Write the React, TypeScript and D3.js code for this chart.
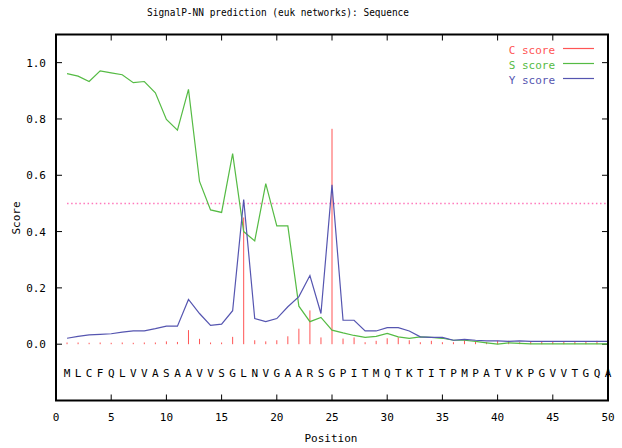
import { useEffect, useRef } from 'react'
import * as d3 from 'd3'

const sequence = 'MLCFQLVVASAAVVSGLNVGAARSGPITMQTKTITPMPATVKPGVVTGQA'.split('')

const cScore = [
  0.006, 0.006, 0.005, 0.006, 0.005, 0.006, 0.005, 0.006, 0.006, 0.01,
  0.008, 0.05, 0.019, 0.006, 0.006, 0.026, 0.45, 0.014, 0.01, 0.014,
  0.028, 0.055, 0.12, 0.024, 0.765, 0.02, 0.024, 0.007, 0.012, 0.021,
  0.024, 0.014, 0.007, 0.012, 0.007, 0.007, 0.014, 0.009, 0.007, 0.012,
  0.012, 0.007, 0.01, 0.01, 0.01, 0.01, 0.01, 0.01, 0.012, 0.01
]

const sScore = [
  0.961, 0.952, 0.933, 0.971, 0.964, 0.957, 0.929, 0.933, 0.893, 0.798,
  0.76, 0.905, 0.578, 0.477, 0.468, 0.677, 0.4, 0.367, 0.57, 0.42,
  0.42, 0.135, 0.08, 0.095, 0.05, 0.04, 0.031, 0.024, 0.028, 0.038,
  0.026, 0.021, 0.026, 0.024, 0.021, 0.014, 0.014, 0.01, 0.005, 0.0,
  0.005, 0.003, 0.001, 0.001, 0.001, 0.001, 0.001, 0.001, 0.001, 0.001
]

const yScore = [
  0.021, 0.028, 0.033, 0.035, 0.037, 0.043, 0.047, 0.047, 0.055, 0.064,
  0.064, 0.159, 0.109, 0.067, 0.071, 0.119, 0.514, 0.091, 0.08, 0.091,
  0.133, 0.169, 0.244, 0.109, 0.566, 0.085, 0.085, 0.047, 0.047, 0.059,
  0.059, 0.047, 0.026, 0.024, 0.024, 0.014, 0.017, 0.014, 0.012, 0.012,
  0.01, 0.012, 0.01, 0.01, 0.01, 0.01, 0.01, 0.01, 0.01, 0.01
]

const xTicks = [0, 5, 10, 15, 20, 25, 30, 35, 40, 45, 50]
const yTicks = [0, 0.2, 0.4, 0.6, 0.8, 1.0]
const threshold = 0.5

const legend = [
  { name: 'C score', color: '#ff5555' },
  { name: 'S score', color: '#55bb44' },
  { name: 'Y score', color: '#5555b0' }
]

const FONT = 'DejaVu Sans Mono'

export default function App() {
  const svgRef = useRef<SVGSVGElement>(null)

  useEffect(() => {
    const svg = d3.select(svgRef.current)
    svg.selectAll('*').remove()

    const x = d3.scaleLinear([0, 50], [56, 608])
    const y = d3.scaleLinear([-0.2, 1.1], [400.5, 34.5])
    const pos = (_: number, i: number) => x(i + 1)

    svg.append('rect')
      .attr('width', 622).attr('height', 448)
      .attr('fill', 'white')

    // title
    svg.append('text')
      .attr('x', 278).attr('y', 16)
      .attr('text-anchor', 'middle')
      .attr('textLength', 262)
      .attr('lengthAdjust', 'spacingAndGlyphs')
      .style('font-family', FONT).style('font-size', '11px')
      .text('SignalP-NN prediction (euk networks): Sequence')

    // ticks, inside on all four sides
    const ticks = svg.append('g').attr('stroke', '#000').attr('stroke-width', 1)
    xTicks.slice(1, -1).forEach(t => {
      ticks.append('line').attr('x1', x(t)).attr('x2', x(t)).attr('y1', y(-0.2)).attr('y2', y(-0.2) - 6)
      ticks.append('line').attr('x1', x(t)).attr('x2', x(t)).attr('y1', y(1.1)).attr('y2', y(1.1) + 6)
    })
    yTicks.forEach(t => {
      ticks.append('line').attr('x1', x(0)).attr('x2', x(0) + 6).attr('y1', y(t)).attr('y2', y(t))
      ticks.append('line').attr('x1', x(50)).attr('x2', x(50) - 6).attr('y1', y(t)).attr('y2', y(t))
    })

    // tick labels
    svg.append('g')
      .selectAll('text')
      .data(xTicks)
      .join('text')
      .attr('x', d => x(d))
      .attr('y', 421)
      .attr('text-anchor', 'middle')
      .style('font-family', FONT).style('font-size', '11px')
      .text(d => d)
    svg.append('g')
      .selectAll('text')
      .data(yTicks)
      .join('text')
      .attr('x', 46)
      .attr('y', d => y(d) + 4)
      .attr('text-anchor', 'end')
      .style('font-family', FONT).style('font-size', '11px')
      .text(d => d.toFixed(1))

    // axis titles
    svg.append('text')
      .attr('x', 331).attr('y', 442)
      .attr('text-anchor', 'middle')
      .style('font-family', FONT).style('font-size', '11px')
      .text('Position')
    svg.append('text')
      .attr('transform', 'translate(20,218) rotate(-90)')
      .attr('text-anchor', 'middle')
      .style('font-family', FONT).style('font-size', '11px')
      .text('Score')

    // sequence letters
    svg.append('g')
      .selectAll('text')
      .data(sequence)
      .join('text')
      .attr('x', (_, i) => x(i + 1))
      .attr('y', 377)
      .attr('text-anchor', 'middle')
      .style('font-family', FONT).style('font-size', '11px')
      .text(d => d)

    // threshold dotted line
    svg.append('line')
      .attr('x1', x(1)).attr('x2', x(50))
      .attr('y1', y(threshold)).attr('y2', y(threshold))
      .attr('stroke', '#ff77bb')
      .attr('stroke-width', 1.5)
      .attr('stroke-dasharray', '1.5,2.6')

    // C score impulses
    svg.append('g')
      .selectAll('line')
      .data(cScore)
      .join('line')
      .attr('x1', pos).attr('x2', pos)
      .attr('y1', y(0))
      .attr('y2', d => y(d))
      .attr('stroke', legend[0].color)
      .attr('stroke-width', 1)

    const line = d3.line<number>().x(pos).y(d => y(d))
    svg.append('path')
      .attr('d', line(sScore))
      .attr('fill', 'none')
      .attr('stroke', legend[1].color)
      .attr('stroke-width', 1.2)
    svg.append('path')
      .attr('d', line(yScore))
      .attr('fill', 'none')
      .attr('stroke', legend[2].color)
      .attr('stroke-width', 1.2)

    // legend
    const lg = svg.append('g')
    legend.forEach((item, i) => {
      const ly = 48.5 + i * 15
      lg.append('text')
        .attr('x', 555).attr('y', ly + 5)
        .attr('text-anchor', 'end')
        .attr('fill', item.color)
        .style('font-family', FONT).style('font-size', '11px')
        .text(item.name)
      lg.append('line')
        .attr('x1', 563).attr('x2', 594)
        .attr('y1', ly).attr('y2', ly)
        .attr('stroke', item.color)
        .attr('stroke-width', 1.2)
    })

    // frame
    svg.append('rect')
      .attr('x', x(0)).attr('y', y(1.1))
      .attr('width', x(50) - x(0))
      .attr('height', y(-0.2) - y(1.1))
      .attr('fill', 'none')
      .attr('stroke', '#000')
      .attr('stroke-width', 2)
  }, [])

  return (
    <svg
      ref={svgRef}
      width={622}
      height={448}
      style={{ position: 'absolute', left: 0, top: 0 }}
    />
  )
}
